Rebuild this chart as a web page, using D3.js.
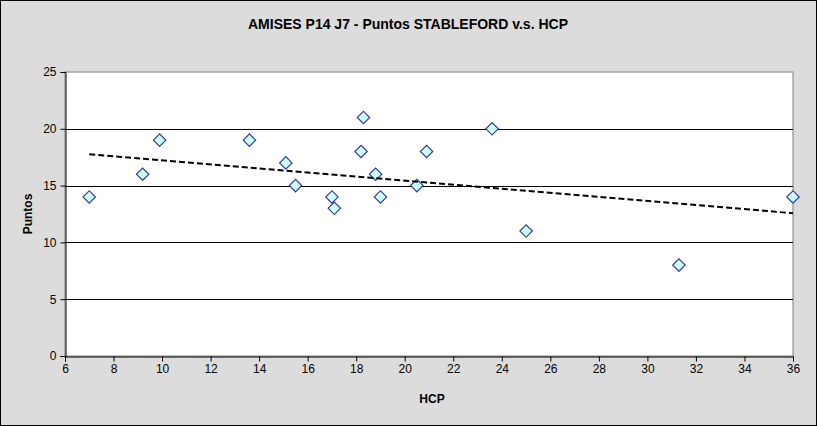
<!DOCTYPE html>
<html><head><meta charset="utf-8">
<script src="https://cdn.jsdelivr.net/npm/d3@7"></script>
<style>body{margin:0;}svg{display:block;font-family:"Liberation Sans",Arial,sans-serif;}</style>
</head><body><svg id="c" width="817" height="426"></svg>
<script>
const hcp =    [7, 9.2, 9.9, 13.6, 15.1, 15.5, 17, 17.1, 18.3, 18.2, 18.8, 19, 20.5, 20.9, 23.6, 25, 31.3, 36];
const puntos = [14, 16, 19, 19, 17, 15, 14, 13, 21, 18, 16, 14, 15, 18, 20, 11, 8, 14];
const xTicks = [6,8,10,12,14,16,18,20,22,24,26,28,30,32,34,36];
const yTicks = [0,5,10,15,20,25];
const title = "AMISES P14 J7 - Puntos STABLEFORD v.s. HCP";
const xLabel = "HCP", yLabel = "Puntos";

const svg = d3.select("#c");
const W=817,H=426;
const L=65,R=793,T=72,B=356;
svg.append("rect").attr("x",0.5).attr("y",0.5).attr("width",W-1).attr("height",H-1).attr("fill","#dcdcdc").attr("stroke","#000");
const x = d3.scaleLinear().domain([6,36]).range([L,R]);
const y = d3.scaleLinear().domain([0,25]).range([B,T]);
svg.append("rect").attr("x",L).attr("y",T).attr("width",R-L).attr("height",B-T).attr("fill","#fff").attr("stroke","#808080");
// gridlines
svg.append("g").selectAll("line").data(yTicks.filter(d=>d>0&&d<25)).join("line")
  .attr("x1",L).attr("x2",R).attr("y1",d=>Math.round(y(d))+0.5).attr("y2",d=>Math.round(y(d))+0.5).attr("stroke","#000");
// axes
const ya = svg.append("g").attr("transform",`translate(${L+0.5},0)`).call(d3.axisLeft(y).tickValues(yTicks).tickSize(5).tickPadding(4));
const xa = svg.append("g").attr("transform",`translate(0,${B+0.5})`).call(d3.axisBottom(x).tickValues(xTicks).tickSize(5).tickPadding(3));
[ya,xa].forEach(a=>{a.select(".domain").attr("stroke","#000");a.selectAll("line").attr("stroke","#000");a.selectAll("text").attr("font-size",12).attr("fill","#000").attr("font-family","Liberation Sans, Arial, sans-serif");});
// points
svg.append("g").selectAll("path").data(hcp).join("path")
  .attr("transform",(d,i)=>`translate(${x(d)},${y(puntos[i])}) rotate(45)`)
  .attr("d",d3.symbol().type(d3.symbolSquare2).size(98)())
  .attr("fill","#ccffff").attr("stroke","#3a3a9a").attr("stroke-width",1.2);
// trendline (least squares)
const mx=d3.mean(hcp), my=d3.mean(puntos);
const slope=d3.sum(hcp,(v,i)=>(v-mx)*(puntos[i]-my))/d3.sum(hcp,v=>(v-mx)*(v-mx));
const x0=d3.min(hcp), x1=d3.max(hcp);
svg.append("line").attr("x1",x(x0)).attr("y1",y(my+slope*(x0-mx))).attr("x2",x(x1)).attr("y2",y(my+slope*(x1-mx)))
  .attr("stroke","#000").attr("stroke-width",2).attr("stroke-dasharray","6,3");
// titles
svg.append("text").attr("x",408).attr("y",29).attr("text-anchor","middle").attr("font-size",14).attr("font-weight","bold").text(title);
svg.append("text").attr("x",432).attr("y",403).attr("text-anchor","middle").attr("font-size",12).attr("font-weight","bold").text(xLabel);
svg.append("text").attr("transform","translate(32,214) rotate(-90)").attr("text-anchor","middle").attr("font-size",12).attr("font-weight","bold").text(yLabel);
</script></body></html>
